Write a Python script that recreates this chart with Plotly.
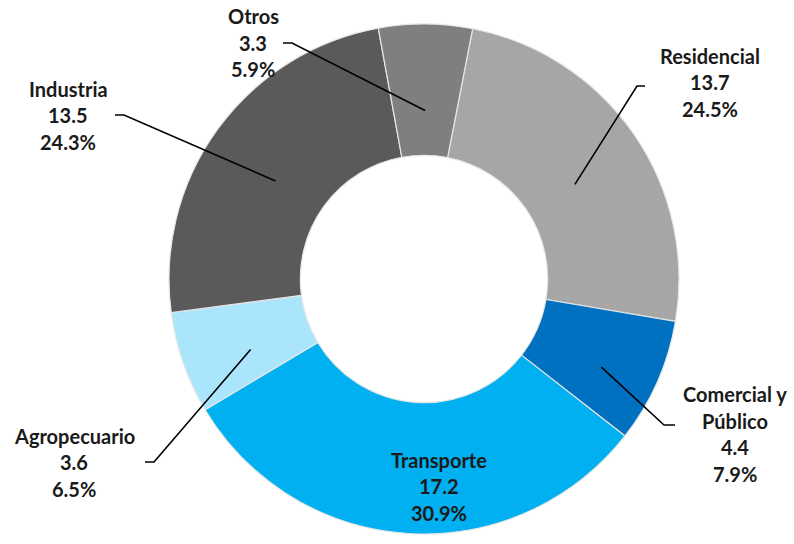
import math
import plotly.graph_objects as go

categories = ["Residencial", "Comercial y Público", "Transporte", "Agropecuario", "Industria", "Otros"]
values = [13.7, 4.4, 17.2, 3.6, 13.5, 3.3]
percents = ["24.5%", "7.9%", "30.9%", "6.5%", "24.3%", "5.9%"]
colors = ["#a6a6a6", "#0070c0", "#00b0f0", "#aae5fb", "#5a5a5a", "#7f7f7f"]

W, H = 794, 544
CX, CY, R = 424, 279, 255
ROT = 11

def px(x):
    return x / W

def py(y):
    return 1 - y / H

fig = go.Figure(go.Pie(
    labels=categories, values=values, sort=False, direction="clockwise",
    rotation=ROT, hole=0.485, textinfo="none", hoverinfo="label+value+percent",
    marker=dict(colors=colors, line=dict(color="#e6e6e6", width=1.2)),
    domain=dict(x=[px(CX - R), px(CX + R)], y=[py(CY + R), py(CY - R)]),
    showlegend=False,
))

# label layout in pixels: text block centre, leader stub, leader radius fraction
label_layout = {
    "Residencial": dict(x=710, y=82, stub=[(645, 86), (637, 86)], rf=0.72),
    "Comercial y Público": dict(x=735, y=434, stub=[(675, 425), (664, 425)], rf=0.76),
    "Transporte": dict(x=439, y=486, stub=None, rf=0.7),
    "Agropecuario": dict(x=74, y=462, stub=[(145, 462), (154, 462)], rf=0.72),
    "Industria": dict(x=68, y=115, stub=[(115, 115), (124, 115)], rf=0.72),
    "Otros": dict(x=253, y=43, stub=[(283, 43), (292, 43)], rf=0.70),
}

total = sum(values)
cum = 0.0
annotations = []
shapes = []
LINE_H = 26.5
for cat, v, pct in zip(categories, values, percents):
    mid = ROT + (cum + v / 2) / total * 360
    cum += v
    lay = label_layout[cat]
    lines = [cat, f"{v}", pct]
    if cat == "Comercial y Público":
        lines = ["Comercial y", "Público", f"{v}", pct]
    n = len(lines)
    for i, t in enumerate(lines):
        yy = lay["y"] + (i - (n - 1) / 2) * LINE_H
        annotations.append(dict(
            x=px(lay["x"]), y=py(yy), xref="paper", yref="paper", text=f"<b>{t}</b>",
            showarrow=False, xanchor="center", yanchor="middle",
            font=dict(family="Lato", size=20, color="#1a1a1a"),
        ))
    if lay["stub"]:
        r = lay["rf"] * R
        ex = CX + r * math.sin(math.radians(mid))
        ey = CY + 10 - r * math.cos(math.radians(mid))
        (x0, y0), (x1, y1) = lay["stub"]
        path = f"M {px(x0)},{py(y0)} L {px(x1)},{py(y1)} L {px(ex)},{py(ey)}"
        shapes.append(dict(type="path", path=path, xref="paper", yref="paper",
                           line=dict(color="black", width=1.6)))

fig.update_layout(
    width=W, height=H, margin=dict(l=0, r=0, t=0, b=0),
    paper_bgcolor="white", plot_bgcolor="white",
    annotations=annotations, shapes=shapes,
)

fig.write_html("out.html", config={"displayModeBar": False},
               post_script="document.body.style.margin='0';")
